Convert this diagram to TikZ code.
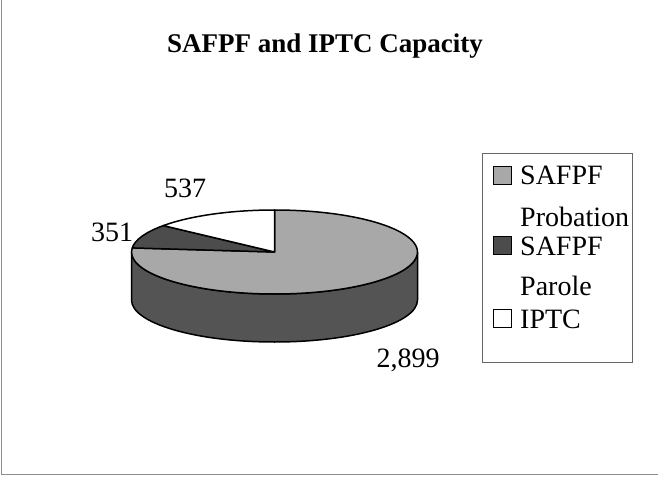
\documentclass[tikz,border=0pt]{standalone}
\usepackage{fontspec}
\setmainfont{Liberation Serif}
\usepackage{tikz}

\definecolor{probtop}{gray}{0.66}
\definecolor{probside}{gray}{0.33}
\definecolor{parolegray}{gray}{0.30}

\tikzset{
  numlbl/.style={font=\fontsize{28}{30}\selectfont, inner sep=0pt, anchor=base},
  legtxt/.style={font=\fontsize{28}{30}\selectfont, inner sep=0pt, anchor=base west},
  swatch/.style={draw, line width=1.2pt, minimum size=18pt, inner sep=0pt, anchor=south west},
  slice/.style={draw=black, line width=1.5pt, line join=round},
}

\begin{document}
\begin{tikzpicture}[x=1pt,y=1pt]
\useasboundingbox (0,0) rectangle (658,477);
\draw [black!45] (1.5,477) -- (1.5,2.5) -- (658,2.5);

\node[font=\bfseries\fontsize{27}{30}\selectfont, inner sep=0pt, anchor=base] (title) at (325,424) {SAFPF and IPTC Capacity};

% pie
\coordinate (ctr) at (274.5,225);
\coordinate (bot) at (274.5,177);
\filldraw [slice, fill=probside] (131.5,225) -- (131.5,177)
  arc[start angle=180, end angle=360, x radius=143, y radius=42]
  -- (417.5,225)
  arc[start angle=0, end angle=-180, x radius=143, y radius=42] -- cycle;
\filldraw [slice, fill=probtop] (ctr) -- ++(174.42:143 and 42)
  arc[start angle=174.42, end angle=450, x radius=143, y radius=42] -- cycle;
\filldraw [slice, fill=parolegray] (ctr) -- ++(141.05:143 and 42)
  arc[start angle=141.05, end angle=174.42, x radius=143, y radius=42] -- cycle;
\filldraw [slice, fill=white] (ctr) -- ++(90:143 and 42)
  arc[start angle=90, end angle=141.05, x radius=143, y radius=42] -- cycle;

\node[numlbl] (iptcval) at (185,279) {537};
\node[numlbl] (parval) at (112,235) {351};
\node[numlbl] (probval) at (408,110) {2,899};

% legend
\node[draw=black!60, minimum width=150, minimum height=209, inner sep=0pt] (legend) at (557,219.5) {};
\node[swatch, fill=probtop] (probsw) at (493,292) {};
\node[legtxt] (probtxt) at (520,292) {SAFPF};
\node[legtxt] (probtxtb) at (520,250) {Probation};
\node[swatch, fill=parolegray] (parsw) at (493,222) {};
\node[legtxt] (partxt) at (520,222) {SAFPF};
\node[legtxt] (partxtb) at (520,182) {Parole};
\node[swatch, fill=white] (iptcsw) at (493,149) {};
\node[legtxt] (iptctxt) at (520,149) {IPTC};
\end{tikzpicture}
\end{document}
